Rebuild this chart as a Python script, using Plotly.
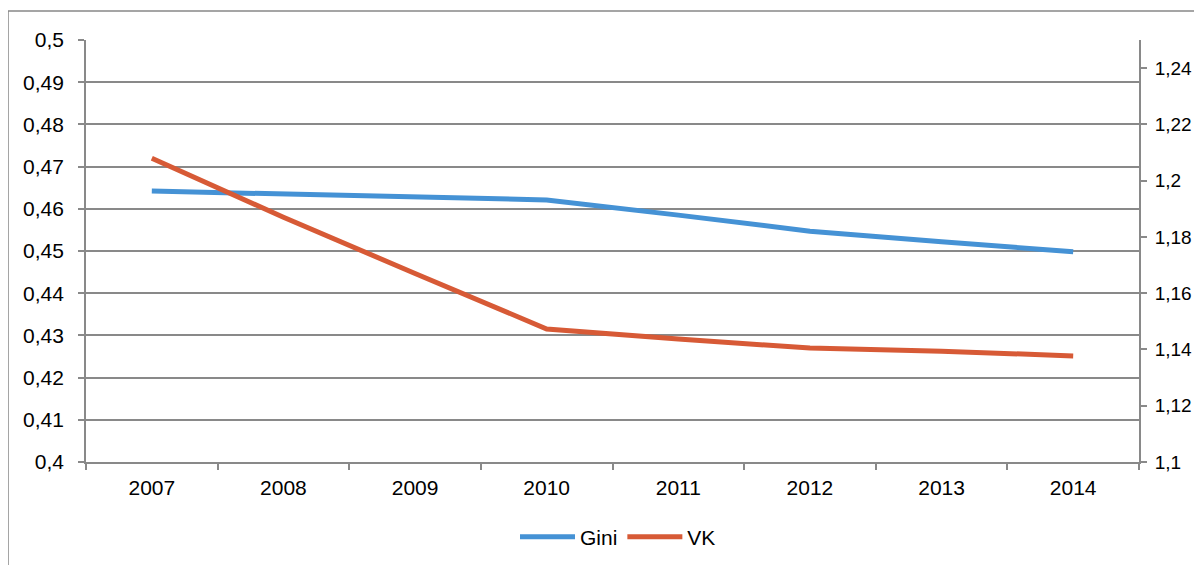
import plotly.graph_objects as go

# data
years = ["2007", "2008", "2009", "2010", "2011", "2012", "2013", "2014"]
gini = [0.4642, 0.4635, 0.4628, 0.4621, 0.4585, 0.4547, 0.4522, 0.4498]
vk = [1.208, 1.187, 1.167, 1.1473, 1.1437, 1.1405, 1.1394, 1.1377]

left_ticks = [0.4, 0.41, 0.42, 0.43, 0.44, 0.45, 0.46, 0.47, 0.48, 0.49, 0.5]
left_labels = ["0,4", "0,41", "0,42", "0,43", "0,44", "0,45", "0,46", "0,47", "0,48", "0,49", "0,5"]
right_ticks = [1.1, 1.12, 1.14, 1.16, 1.18, 1.2, 1.22, 1.24]
right_labels = ["1,1", "1,12", "1,14", "1,16", "1,18", "1,2", "1,22", "1,24"]

GRID = "#898989"
FONT = dict(family="Liberation Sans, Arial, sans-serif", size=21, color="#000000")

fig = go.Figure()

fig.add_trace(go.Scatter(
    x=years, y=gini, mode="lines", name="Gini",
    line=dict(color="#4592D5", width=5),
    yaxis="y",
))
fig.add_trace(go.Scatter(
    x=years, y=vk, mode="lines", name="VK",
    line=dict(color="#D75A36", width=5),
    yaxis="y2",
))

# page body has an 8px margin; figure starts at (8, 8) in the window
OFF = 8
W, H = 1202 - OFF, 565 - OFF
L, R, T, B = 86 - OFF, 1139 - OFF, 40 - OFF, 462 - OFF
pw, ph = R - L, B - T

# outer chart border: only left and top edges are visible in the reference
bx = (8 - OFF - L) / pw
by = (B - (11 - OFF)) / ph
fig.add_shape(type="line", xref="paper", yref="paper",
              x0=bx, x1=bx, y0=by, y1=(B - H - 20) / ph,
              line=dict(color="#878787", width=1.5))
fig.add_shape(type="line", xref="paper", yref="paper",
              x0=bx, x1=(W + 20 - L) / pw, y0=by, y1=by,
              line=dict(color="#878787", width=1.5))

fig.update_layout(
    width=W, height=H,
    margin=dict(l=L, r=W - R, t=T, b=H - B, autoexpand=False),
    paper_bgcolor="white", plot_bgcolor="white",
    font=FONT,
    showlegend=True,
    legend=dict(
        orientation="h", x=(618 - OFF - L) / pw, xanchor="center",
        y=(B - (537 - OFF)) / ph, yanchor="middle",
        font=FONT, bgcolor="rgba(0,0,0,0)", itemwidth=55,
    ),
    xaxis=dict(
        type="category", range=[-0.5, 7.5], automargin=False,
        showline=True, linecolor=GRID, linewidth=1.75,
        ticks="outside", tickson="boundaries", ticklen=6, tickcolor=GRID, tickwidth=1.75,
        showgrid=False, ticklabelstandoff=6,
    ),
    yaxis=dict(
        range=[0.4, 0.5], tickvals=left_ticks, ticktext=left_labels, automargin=False,
        showline=True, linecolor=GRID, linewidth=1.75,
        ticks="outside", ticklen=6, tickcolor=GRID, tickwidth=1.75,
        showgrid=True, gridcolor=GRID, gridwidth=1.75,
        zeroline=False, ticklabelstandoff=10,
    ),
    yaxis2=dict(
        range=[1.1, 1.25], tickvals=right_ticks, ticktext=right_labels, automargin=False,
        overlaying="y", side="right",
        showline=True, linecolor=GRID, linewidth=1.75,
        ticks="outside", ticklen=6, tickcolor=GRID, tickwidth=1.75,
        showgrid=False, zeroline=False, ticklabelstandoff=4,
        tickfont=dict(family="Liberation Sans, Arial, sans-serif", size=19, color="#000000"),
    ),
)

fig.write_html("out.html")
